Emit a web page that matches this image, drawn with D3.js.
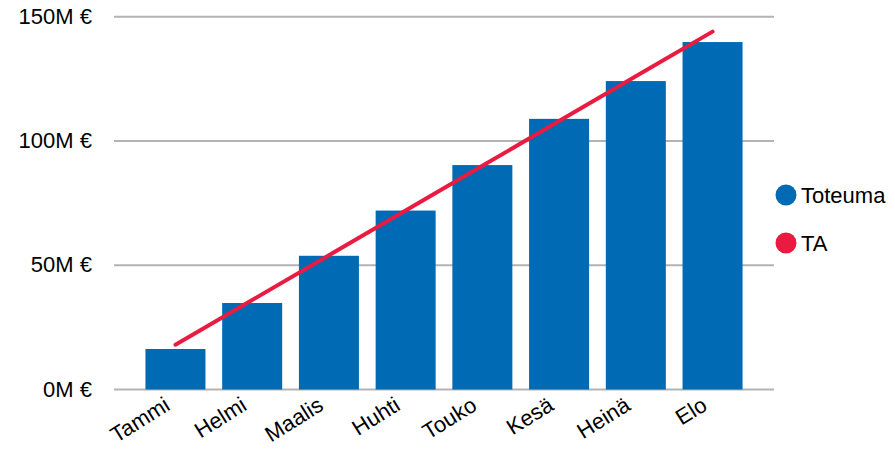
<!DOCTYPE html>
<html><head><meta charset="utf-8">
<script src="https://cdn.jsdelivr.net/npm/d3@7"></script>
<style>body{margin:0;background:#fff}svg{display:block}text{font-family:"Liberation Sans",Arial,sans-serif;fill:#000}</style>
</head><body><svg id="c" width="895" height="451"></svg>
<script>
const categories = ["Tammi","Helmi","Maalis","Huhti","Touko","Kesä","Heinä","Elo"];
const toteuma = [16.3, 34.8, 53.8, 72.0, 90.3, 108.9, 124.1, 139.8];
const ta = [18, 36, 54, 72, 90, 108, 126, 144];
const yTicks = [0, 50, 100, 150];
const seriesNames = ["Toteuma", "TA"];
const colors = ["#006ab4", "#ea1b41"];

const svg = d3.select("#c");
const x = d3.scaleBand().domain(categories).range([114, 774]).paddingInner(0.218).paddingOuter(0.41);
const y = d3.scaleLinear().domain([0, 150]).range([389.5, 16.7]);

// gridlines
svg.append("g").selectAll("line").data(yTicks).join("line")
  .attr("x1", 114).attr("x2", 774)
  .attr("y1", d => y(d)).attr("y2", d => y(d))
  .attr("stroke", "#b3b3b3").attr("stroke-width", 2);

// y labels
svg.append("g").selectAll("text").data(yTicks).join("text")
  .attr("x", 92).attr("y", d => y(d)).attr("dy", "0.32em")
  .attr("text-anchor", "end").attr("font-size", 22)
  .text(d => d + "M €");

// bars
svg.append("g").selectAll("rect").data(toteuma).join("rect")
  .attr("x", (d, i) => x(categories[i])).attr("width", x.bandwidth())
  .attr("y", d => y(d)).attr("height", d => y(0) - y(d))
  .attr("fill", colors[0]);

// line
const line = d3.line().x((d, i) => x(categories[i]) + x.bandwidth() / 2).y(d => y(d));
svg.append("path").datum(ta).attr("d", line)
  .attr("fill", "none").attr("stroke", colors[1]).attr("stroke-width", 4)
  .attr("stroke-linecap", "round");

// x labels
svg.append("g").selectAll("text").data(categories).join("text")
  .attr("transform", d => `translate(${x(d) + x.bandwidth() / 2 - 4},${409}) rotate(-32)`)
  .attr("text-anchor", "end").attr("font-size", 22)
  .text(d => d);

// legend
const lg = svg.append("g").selectAll("g").data(seriesNames).join("g")
  .attr("transform", (d, i) => `translate(786,${195 + i * 48})`);
lg.append("circle").attr("r", 10.5).attr("fill", (d, i) => colors[i]);
lg.append("text").attr("x", 15).attr("dy", "0.35em").attr("font-size", 22).text(d => d);
</script></body></html>
